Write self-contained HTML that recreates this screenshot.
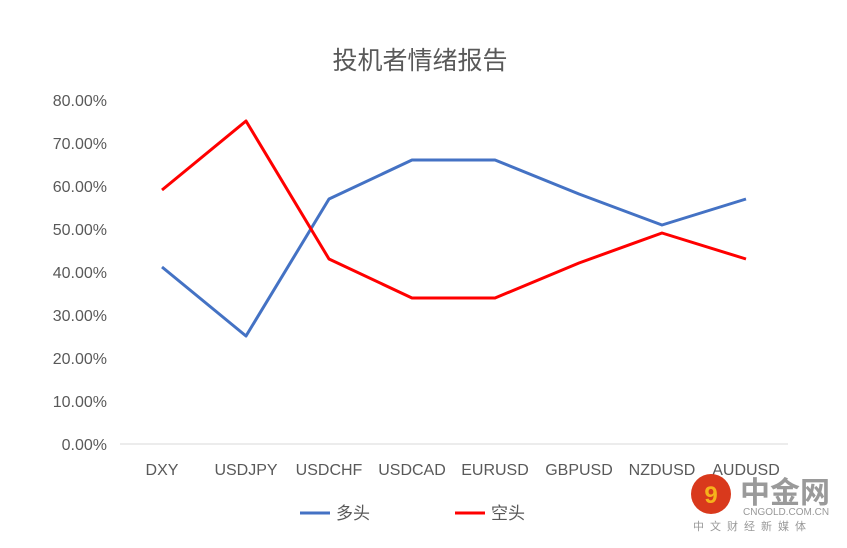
<!DOCTYPE html>
<html><head><meta charset="utf-8"><style>
body{margin:0;background:#fff;}
svg text{font-family:"Liberation Sans","Noto Sans CJK SC",sans-serif;}
</style></head><body>
<svg width="847" height="543" viewBox="0 0 847 543" xmlns="http://www.w3.org/2000/svg">
<rect width="847" height="543" fill="#fff"/>
<text x="420" y="69" font-size="25" fill="#595959" text-anchor="middle">投机者情绪报告</text>
<line x1="120" y1="444" x2="788" y2="444" stroke="#d9d9d9" stroke-width="1"/>
<g font-size="16" fill="#595959" text-anchor="end">
<text x="107" y="450">0.00%</text>
<text x="107" y="407">10.00%</text>
<text x="107" y="364">20.00%</text>
<text x="107" y="321">30.00%</text>
<text x="107" y="278">40.00%</text>
<text x="107" y="235">50.00%</text>
<text x="107" y="192">60.00%</text>
<text x="107" y="149">70.00%</text>
<text x="107" y="106">80.00%</text>
</g>
<g font-size="16" fill="#595959" text-anchor="middle">
<text x="162" y="475">DXY</text>
<text x="246" y="475">USDJPY</text>
<text x="329" y="475">USDCHF</text>
<text x="412" y="475">USDCAD</text>
<text x="495" y="475">EURUSD</text>
<text x="579" y="475">GBPUSD</text>
<text x="662" y="475">NZDUSD</text>
<text x="746" y="475">AUDUSD</text>
</g>
<polyline fill="none" stroke="#4472c4" stroke-width="3" stroke-linejoin="round" points="162,267 246,336 329,199 412,160 495,160 579,194 662,225 746,199"/>
<polyline fill="none" stroke="#ff0000" stroke-width="3" stroke-linejoin="round" points="162,190 246,121 329,259 412,298 495,298 579,263 662,233 746,259"/>
<line x1="300" y1="513" x2="330" y2="513" stroke="#4472c4" stroke-width="3"/>
<text x="336" y="519" font-size="17" fill="#595959">多头</text>
<line x1="455" y1="513" x2="485" y2="513" stroke="#ff0000" stroke-width="3"/>
<text x="491" y="519" font-size="17" fill="#595959">空头</text>
<circle cx="711" cy="494" r="20" fill="#d9391c"/>
<text x="711" y="503" font-size="24" font-weight="bold" fill="#f6b21b" text-anchor="middle">9</text>
<text x="740" y="503" font-size="30" font-weight="bold" fill="#9a9a9a">中金网</text>
<text x="743" y="515" font-size="10" fill="#999">CNGOLD.COM.CN</text>
<text x="693" y="530" font-size="11" fill="#999" letter-spacing="6">中文财经新媒体</text>
</svg>
</body></html>
